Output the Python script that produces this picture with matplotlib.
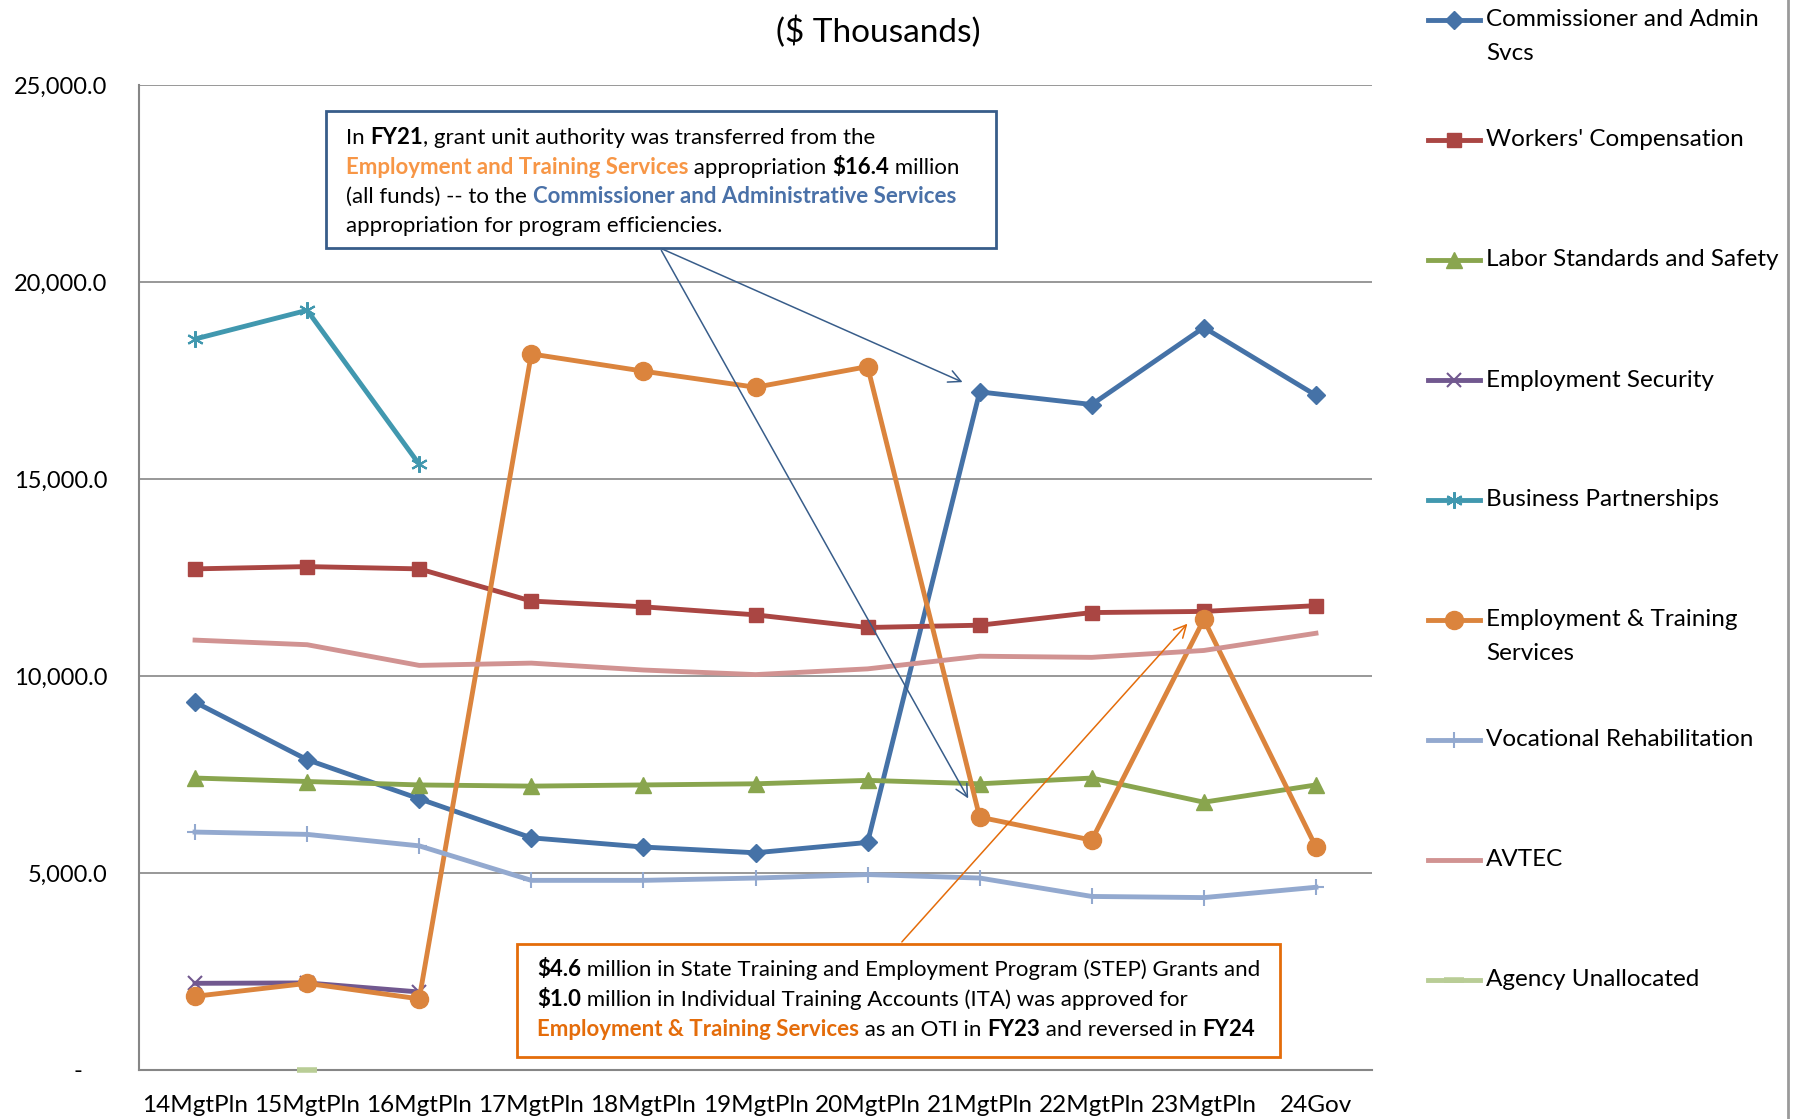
import numpy as np
import matplotlib
matplotlib.use("Agg")
import matplotlib.pyplot as plt
from matplotlib.lines import Line2D
from matplotlib.ticker import FuncFormatter

plt.rcParams['font.family'] = ['Lato', 'DejaVu Sans']

nan = np.nan
years = ['14MgtPln', '15MgtPln', '16MgtPln', '17MgtPln', '18MgtPln', '19MgtPln',
         '20MgtPln', '21MgtPln', '22MgtPln', '23MgtPln', '24Gov']

commissioner = [9335, 7876, 6884, 5893, 5659, 5513, 5776, 17211, 16890, 18845, 17124]
workers_comp = [12719, 12777, 12719, 11902, 11756, 11552, 11231, 11289, 11610, 11639, 11785]
labor_std = [7410, 7322, 7235, 7205, 7235, 7264, 7351, 7264, 7410, 6797, 7235]
emp_security = [2200, 2210, 1980, nan, nan, nan, nan, nan, nan, nan, nan]
business = [18553, 19282, 15373, nan, nan, nan, nan, nan, nan, nan, nan]
emp_training = [1870, 2200, 1805, 18174, 17737, 17328, 17853, 6418, 5834, 11435, 5659]
voc_rehab = [6039, 5980, 5689, 4813, 4813, 4872, 4960, 4872, 4405, 4376, 4638]
avtec = [10911, 10794, 10269, 10327, 10152, 10035, 10181, 10502, 10473, 10648, 11085]
unallocated = [nan, 0, nan, nan, nan, nan, nan, nan, nan, nan, nan]

series = [
    ("Commissioner and Admin\nSvcs", commissioner, '#4572A7', dict(marker='D', ms=9)),
    ("Workers' Compensation", workers_comp, '#AA4643', dict(marker='s', ms=10)),
    ("Labor Standards and Safety", labor_std, '#89A54E', dict(marker='^', ms=11)),
    ("Employment Security", emp_security, '#71588F', dict(marker='x', ms=10, mew=1.5)),
    ("Business Partnerships", business, '#4198AF', dict(marker=(6, 2, 0), ms=12, mew=1.5)),
    ("Employment & Training\nServices", emp_training, '#DB843D', dict(marker='o', ms=13)),
    ("Vocational Rehabilitation", voc_rehab, '#93A9CF', dict(marker='+', ms=12, mew=1.5)),
    ("AVTEC", avtec, '#D19392', dict(marker='None')),
    ("Agency Unallocated", unallocated, '#B9CD96', dict(marker='_', ms=14, mew=4)),
]

W, H = 1802, 1119
fig = plt.figure(figsize=(W / 100, H / 100), dpi=100)
ax = fig.add_axes([139 / W, 1 - 1070 / H, (1372 - 139) / W, (1070 - 85) / H])

x = np.arange(len(years))
for name, vals, col, mk in series:
    ax.plot(x, vals, color=col, lw=3.5, mfc=col, mec=col, clip_on=False, zorder=3, **mk)

ax.set_xlim(-0.5, len(years) - 0.5)
ax.set_ylim(0, 25000)
ax.set_yticks(np.arange(0, 25001, 5000))
ax.yaxis.set_major_formatter(FuncFormatter(lambda v, p: '-    ' if v == 0 else f'{v:,.1f}'))
ax.set_xticks(x)
ax.set_xticklabels(years)
ax.tick_params(axis='y', length=0, pad=23, labelsize=17)
ax.tick_params(axis='x', length=0, pad=18, labelsize=17.5)
ax.grid(axis='y', color='#868686', lw=1.2)
ax.set_axisbelow(True)
for s in ['top', 'right']:
    ax.spines[s].set_visible(False)
for s in ['left', 'bottom']:
    ax.spines[s].set_color('#868686')
    ax.spines[s].set_linewidth(1.5)
    ax.spines[s].set_zorder(2)

fig.text(878 / W, 1 - 32 / H, '($ Thousands)', fontsize=24, ha='center', va='center')

# right border of chart area
fig.add_artist(Line2D([1788 / W, 1788 / W], [0, 1], color='#9a9a9a', lw=2,
                      transform=fig.transFigure))

# manual legend
leg_y = [20, 140, 260, 380, 500, 620, 740, 860, 980]
for (name, vals, col, mk), yy in zip(series, leg_y):
    yf = 1 - yy / H
    fig.add_artist(Line2D([1428 / W, 1480 / W], [yf, yf], color=col, lw=3.5,
                          transform=fig.transFigure))
    fig.add_artist(Line2D([1454 / W], [yf], color=col, lw=0, mfc=col, mec=col,
                          transform=fig.transFigure, **mk))
    for i, ln in enumerate(name.split('\n')):
        fig.text(1486 / W, 1 - (yy + i * 33) / H, ln, fontsize=17.5, va='center', ha='left')


def rich_line(xpix, ypix, segs, size=16):
    last = None
    for txt, col, bold in segs:
        kw = dict(fontsize=size, color=col, fontweight='bold' if bold else 'normal', zorder=10)
        if last is None:
            last = fig.text(xpix / W, 1 - ypix / H, txt, va='center_baseline', ha='left', **kw)
        else:
            last = ax.annotate(txt, xy=(1, 0), xycoords=last, va='bottom', ha='left',
                               annotation_clip=False, **kw)


def box(x0, y0, x1, y1, col):
    ax.add_artist(plt.Rectangle((x0 / W, 1 - y1 / H), (x1 - x0) / W, (y1 - y0) / H,
                                transform=fig.transFigure, fill=True, fc='white',
                                ec=col, lw=2, zorder=5, clip_on=False))


K = 'black'
O1 = '#F79646'
B1 = '#4A71A8'
O2 = '#E46C0A'

box(326, 111, 996, 248, '#385D8A')
lines1 = [
    [("In ", K, False), ("FY21", K, True), (", grant unit authority was transferred from the", K, False)],
    [("Employment and Training Services", O1, True), (" appropriation ", K, False),
     ("$16.4", K, True), (" million", K, False)],
    [("(all funds) -- to the ", K, False), ("Commissioner and Administrative Services", B1, True)],
    [("appropriation for program efficiencies.", K, False)],
]
for i, segs in enumerate(lines1):
    rich_line(346, 136 + i * 29.5, segs)

box(517, 944, 1280, 1057, O2)
lines2 = [
    [("$4.6", K, True), (" million in State Training and Employment Program (STEP) Grants and", K, False)],
    [("$1.0", K, True), (" million in Individual Training Accounts (ITA) was approved for", K, False)],
    [("Employment & Training Services", O2, True), (" as an OTI in ", K, False), ("FY23", K, True),
     (" and reversed in ", K, False), ("FY24", K, True)],
]
for i, segs in enumerate(lines2):
    rich_line(537, 968 + i * 29.5, segs)

# arrows
start1 = (660 / W, 1 - 248 / H)
for tip in [(6.87, 17430), (6.91, 6830)]:
    ax.annotate('', xy=tip, xycoords='data', xytext=start1, textcoords='figure fraction',
                arrowprops=dict(arrowstyle='->', color='#385D8A', lw=1.1,
                                mutation_scale=22), zorder=6)
ax.annotate('', xy=(8.87, 11380), xycoords='data', xytext=(900 / W, 1 - 944 / H),
            textcoords='figure fraction',
            arrowprops=dict(arrowstyle='->', color=O2, lw=1.1, mutation_scale=22), zorder=6)

fig.savefig('out.png', dpi=100)
